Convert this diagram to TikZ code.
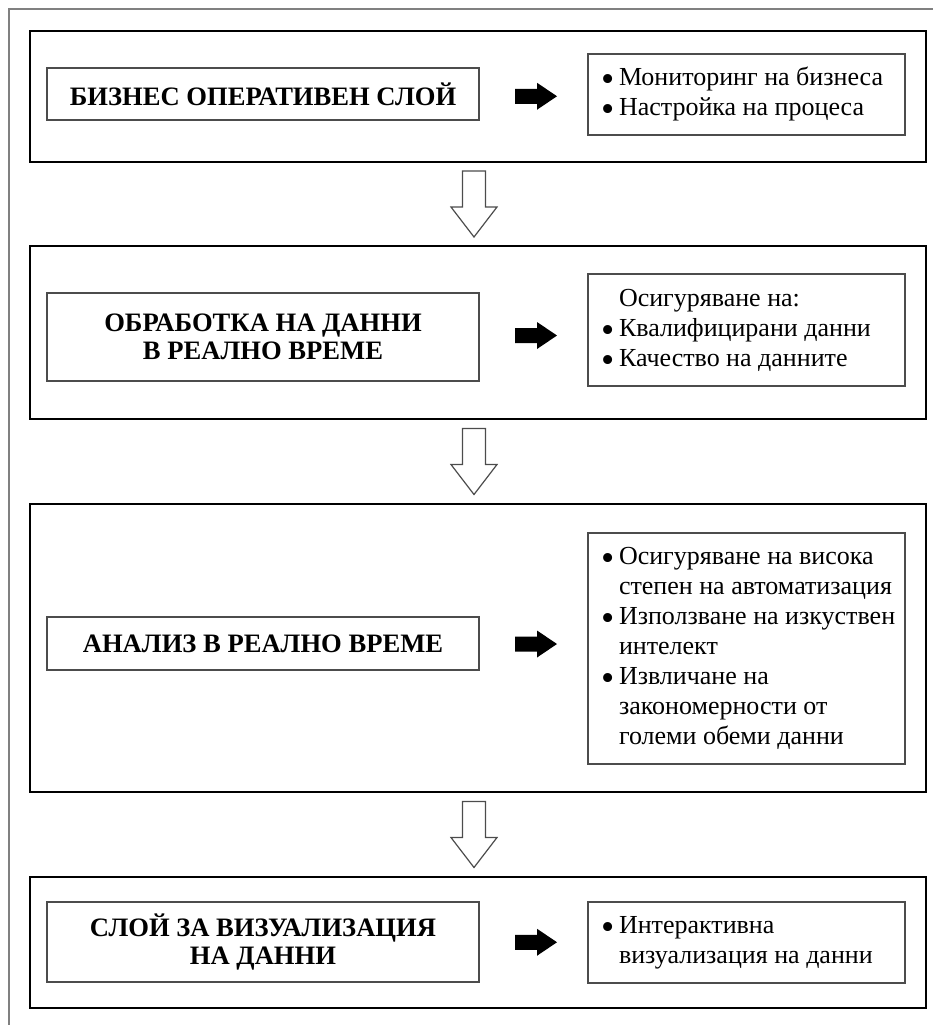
\documentclass[tikz,border=0pt]{standalone}
\usepackage{fontspec}
\usepackage{graphicx}
\setmainfont{Liberation Serif}
\usetikzlibrary{calc}
\newcommand\bul{\makebox[9pt][l]{\smash{\raisebox{-3.2pt}{\scalebox{1.45}{\textbullet}}}}}
\newcommand\nobul{\hspace*{9pt}}
\newcommand\rlist[1]{\makebox[145.5pt][l]{\begin{tabular}{@{}l@{}}#1\end{tabular}}}

\begin{document}
\begin{tikzpicture}[x=0.5pt, y=-0.5pt,
	layer/.style={draw=black, line width=1pt, minimum width=448pt, inner sep=0pt},
	lbox/.style={draw=black!70, line width=0.6pt, minimum width=216pt, align=center, font=\fontsize{13.3pt}{14pt}\selectfont\bfseries},
	rbox/.style={draw=black!70, line width=0.6pt, minimum width=158.5pt, inner xsep=6.5pt, font=\fontsize{13pt}{15pt}\selectfont},
	hollowdown/.pic={\draw[black!70, line width=0.6pt] (-11.5,-33) -- (11.5,-33) -- (11.5,3) -- (23,3) -- (0,33) -- (-23,3) -- (-11.5,3) -- cycle;},
	fatright/.pic={\fill (-21,-7.5) -- (1,-7.5) -- (1,-13.5) -- (21,0) -- (1,13.5) -- (1,7.5) -- (-21,7.5) -- cycle;}]
	\useasboundingbox (0,0) rectangle (933,1025);
	\clip (0,0) rectangle (933,1025);
	\draw[black!50, line width=0.8pt] (9,1100) -- (9,9) -- (1000,9);

	\node[layer, minimum height=65.5pt] (layer1) at (478,96.5) {};
	\node[layer, minimum height=86.5pt] (layer2) at (478,332.5) {};
	\node[layer, minimum height=144pt] (layer3) at (478,648) {};
	\node[layer, minimum height=65.5pt] (layer4) at (478,942.5) {};

	\node[lbox, minimum height=26pt] (name1) at (263,94) {БИЗНЕС ОПЕРАТИВЕН СЛОЙ};
	\node[lbox, minimum height=44pt] (name2) at (263,337) {ОБРАБОТКА НА ДАННИ\\В РЕАЛНО ВРЕМЕ};
	\node[lbox, minimum height=26.5pt] (name3) at (263,643.5) {АНАЛИЗ В РЕАЛНО ВРЕМЕ};
	\node[lbox, minimum height=40pt] (name4) at (263,942) {СЛОЙ ЗА ВИЗУАЛИЗАЦИЯ\\НА ДАННИ};

	\node[rbox, minimum height=40.5pt] (list1) at (746.5,94.5) {\rlist{\bul Мониторинг на бизнеса\\ \bul Настройка на процеса}};
	\node[rbox, minimum height=56pt] (list2) at (746.5,330) {\rlist{\nobul Осигуряване на:\\ \bul Квалифицирани данни\\ \bul Качество на данните}};
	\node[rbox, minimum height=115.5pt] (list3) at (746.5,648.5) {\rlist{\bul Осигуряване на висока\\ \nobul степен на автоматизация\\ \bul Използване на изкуствен\\ \nobul интелект\\ \bul Извличане на\\ \nobul закономерности от\\ \nobul големи обеми данни}};
	\node[rbox, minimum height=40.5pt] (list4) at (746.5,942.5) {\rlist{\bul Интерактивна\\ \nobul визуализация на данни}};

	\pic at ($(name1.east)!0.5!(list1.west)+(2.5,2)$) {fatright};
	\pic at ($(name2.east)!0.5!(list2.west)+(2.5,2)$) {fatright};
	\pic at ($(name3.east)!0.5!(list3.west)+(2.5,-2)$) {fatright};
	\pic at ($(name4.east)!0.5!(list4.west)+(2.5,0)$) {fatright};

	\pic at ($(layer1.south)!0.5!(layer2.north)+(-4,0)$) {hollowdown};
	\pic at ($(layer2.south)!0.5!(layer3.north)+(-4,0)$) {hollowdown};
	\pic at ($(layer3.south)!0.5!(layer4.north)+(-4,0)$) {hollowdown};
\end{tikzpicture}
\end{document}
